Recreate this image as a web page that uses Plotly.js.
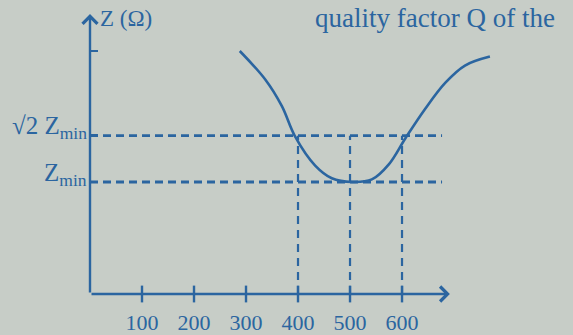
<!DOCTYPE html>
<html>
<head>
<meta charset="utf-8">
<script src="https://cdn.plot.ly/plotly-3.0.1.min.js"></script>
<style>html,body{margin:0;padding:0;background:#c7cdc7;}#chart{width:573px;height:335px;}</style>
</head>
<body>
<div id="chart"></div>
<script>
// ---- data (Z in units of Zmin, ω in rad/s) ----
const omega = [288, 337, 369, 394, 433, 465, 504, 542, 575, 606, 644, 683, 721, 769];
const zValues = [2.17, 1.915, 1.677, 1.41, 1.147, 1.034, 1.0, 1.023, 1.16, 1.387, 1.65, 1.885, 2.04, 2.12];
const zMin = 1;
const zRoot2 = Math.SQRT2;
const zTopTick = 2.17;
const yTickVals = [zMin, zRoot2];
const yTickText = ['Z<sub>min</sub>', '√2 Z<sub>min</sub>'];
const xTickVals = [100, 200, 300, 400, 500, 600];
const xTickText = ['100', '200', '300', '400', '500', '600'];
const markedOmega = [400, 500, 600];
const dashEnd = 677;
const xArrowEnd = 692;
const yArrowEnd = 2.5;

const blue = '#2b65a0';
const serif = 'Liberation Serif, DejaVu Serif, serif';

const traces = [];
// horizontal dashed guides
[zRoot2, zMin].forEach(v => traces.push({
  x: [0, dashEnd], y: [v, v], mode: 'lines', hoverinfo: 'skip',
  line: {color: blue, width: 2.8, dash: '8px,5px'}
}));
// vertical dashed guides
markedOmega.forEach(w => traces.push({
  x: [w, w], y: [0, zRoot2], mode: 'lines', hoverinfo: 'skip',
  line: {color: blue, width: 2.2, dash: '8px,6px'}
}));
// x-axis crossing tick marks
traces.push({
  x: xTickVals, y: xTickVals.map(() => 0), mode: 'markers', cliponaxis: false, hoverinfo: 'skip',
  marker: {symbol: 'line-ns', size: 12, line: {color: blue, width: 2.4}}
});
// resonance curve
traces.push({
  x: omega, y: zValues, mode: 'lines', cliponaxis: false,
  line: {color: blue, width: 2.6, shape: 'spline', smoothing: 1}
});

const annotations = [
  {x: 0, y: yArrowEnd, ax: 0, ay: 0, axref: 'x', ayref: 'y', xref: 'x', yref: 'y',
   text: '', showarrow: true, arrowhead: 4, arrowsize: 1.2, arrowwidth: 2.4, arrowcolor: blue, standoff: 0},
  {x: xArrowEnd, y: 0, ax: 0, ay: 0, axref: 'x', ayref: 'y', xref: 'x', yref: 'y',
   text: '', showarrow: true, arrowhead: 4, arrowsize: 1.2, arrowwidth: 2.4, arrowcolor: blue, standoff: 0},
  {x: 16, y: 2.46, xref: 'x', yref: 'y', xanchor: 'left', yanchor: 'middle', showarrow: false,
   text: 'Z (Ω)', font: {family: serif, size: 23, color: blue}},
  {x: 713, y: -0.05, xref: 'x', yref: 'y', xanchor: 'left', yanchor: 'middle', showarrow: false,
   text: 'ω (rad.s<sup>−1</sup>)', font: {family: serif, size: 21, color: blue}},
  {x: 0, y: 0, xref: 'paper', yref: 'paper', xanchor: 'right', yanchor: 'top', showarrow: false,
   xshift: 467, yshift: 293, text: 'quality factor Q of the', font: {family: serif, size: 27, color: blue}}
];
// y tick labels as annotations (lifted so the subscript sits on the tick)
yTickVals.forEach((v, i) => annotations.push({
  x: 0, y: v, xref: 'paper', yref: 'y', xanchor: 'right', yanchor: 'middle', showarrow: false,
  xshift: -1, yshift: 8, text: yTickText[i], font: {family: serif, size: 25, color: blue}
}));

const layout = {
  width: 573, height: 335,
  margin: {l: 90, r: 78, t: 10, b: 41},
  paper_bgcolor: '#c7cdc7', plot_bgcolor: 'rgba(0,0,0,0)',
  showlegend: false,
  font: {family: serif, color: blue, size: 22},
  xaxis: {
    range: [0, 778.8], showgrid: false, zeroline: false, showline: false,
    tickvals: xTickVals, ticktext: xTickText, ticks: '', ticklabelstandoff: 13,
    tickfont: {family: serif, size: 22, color: blue}, fixedrange: true
  },
  yaxis: {
    range: [0, 2.536], showgrid: false, zeroline: false, showline: false,
    tickvals: [zMin, zRoot2, zTopTick], showticklabels: false,
    ticks: 'inside', ticklen: 8, tickwidth: 2.4, tickcolor: blue, fixedrange: true
  },
  annotations: annotations
};

Plotly.newPlot('chart', traces, layout, {staticPlot: true, displayModeBar: false});
</script>
</body>
</html>
